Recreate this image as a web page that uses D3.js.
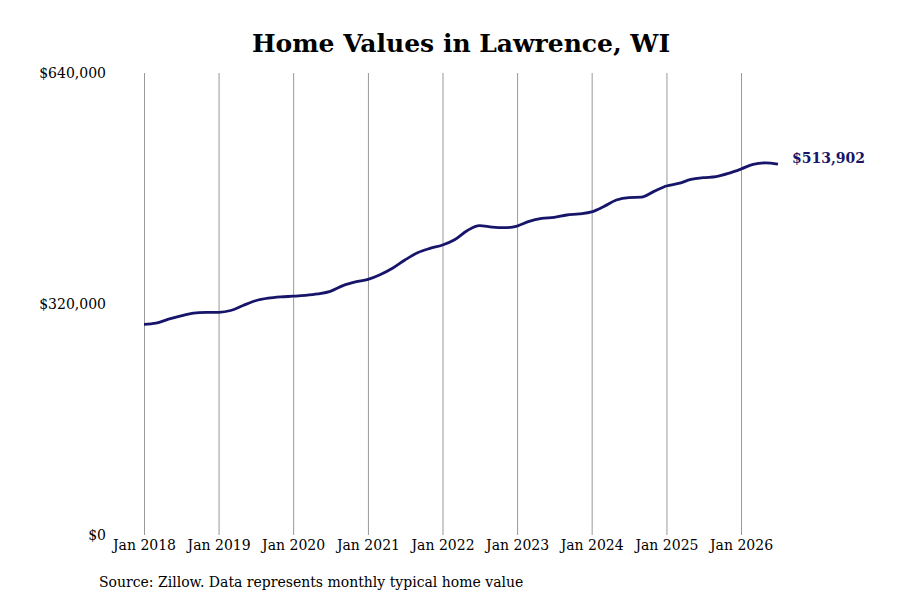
<!DOCTYPE html>
<html>
<head>
<meta charset="utf-8">
<script src="https://cdn.jsdelivr.net/npm/d3@7"></script>
<style>
  body { margin: 0; background: #fff; }
  text { font-family: "DejaVu Serif", serif; }
</style>
</head>
<body>
<svg id="chart" width="900" height="600"></svg>
<script>
// monthly typical home value (every other month)
const dates = [
  "2018-01", "2018-03", "2018-05", "2018-07", "2018-09", "2018-11",
  "2019-01", "2019-03", "2019-05", "2019-07", "2019-09", "2019-11",
  "2020-01", "2020-03", "2020-05", "2020-07", "2020-09", "2020-11",
  "2021-01", "2021-03", "2021-05", "2021-07", "2021-09", "2021-11",
  "2022-01", "2022-03", "2022-05", "2022-07", "2022-09", "2022-11",
  "2023-01", "2023-03", "2023-05", "2023-07", "2023-09", "2023-11",
  "2024-01", "2024-03", "2024-05", "2024-07", "2024-09", "2024-11",
  "2025-01", "2025-03", "2025-05", "2025-07", "2025-09", "2025-11",
  "2026-01", "2026-03", "2026-05", "2026-07"
];
const values = [
  291900, 293500, 299000, 303500, 307300, 308300,
  308500, 311000, 318000, 324500, 328000, 329800,
  330800, 332000, 334000, 337500, 345500, 350500,
  354000, 360500, 369500, 381000, 391000, 397000,
  401700, 409000, 421500, 428500, 426500, 425700,
  428000, 434500, 438500, 440000, 443300, 444800,
  447500, 455000, 464000, 467500, 468000, 476000,
  483500, 487000, 492500, 495000, 496500, 501000,
  507000, 513500, 515500, 513902
];
const yTicks = [0, 320000, 640000];
const xTickYears = [2018, 2019, 2020, 2021, 2022, 2023, 2024, 2025, 2026];

const title = "Home Values in Lawrence, WI";
const source = "Source: Zillow. Data represents monthly typical home value";

const parse = d3.timeParse("%Y-%m");
const data = dates.map((d, i) => ({ date: parse(d), value: values[i] }));

const svg = d3.select("#chart");
const lineColor = "#16156a";

const x = d3.scaleTime()
  .domain(d3.extent(data, d => d.date))
  .range([144, 778]);
const y = d3.scaleLinear()
  .domain([0, 640000])
  .range([535, 73]);

svg.append("text")
  .attr("x", 461)
  .attr("y", 52)
  .attr("text-anchor", "middle")
  .style("font-size", "25px")
  .style("font-weight", "bold")
  .text(title);

// vertical gridlines + x labels
const xAxis = d3.axisBottom(x)
  .tickValues(xTickYears.map(yr => new Date(yr, 0, 1)))
  .tickSize(-(y(0) - y(640000)))
  .tickFormat(d3.timeFormat("Jan %Y"));

const gx = svg.append("g")
  .attr("transform", `translate(0,${y(0)})`)
  .call(xAxis);
gx.select(".domain").remove();
gx.selectAll(".tick line").attr("stroke", "#999").attr("stroke-width", 1);
gx.selectAll(".tick text")
  .attr("y", 5)
  .attr("fill", "#000")
  .style("font-size", "14px")
  .style("font-family", "DejaVu Serif, serif");

// y labels
const yAxis = d3.axisLeft(y)
  .tickValues(yTicks)
  .tickSize(0)
  .tickFormat(d => "$" + d3.format(",")(d));
const gy = svg.append("g")
  .attr("transform", "translate(106,0)")
  .call(yAxis);
gy.select(".domain").remove();
gy.selectAll(".tick text")
  .attr("x", 0)
  .attr("fill", "#000")
  .style("font-size", "14px")
  .style("font-family", "DejaVu Serif, serif");

const line = d3.line()
  .x(d => x(d.date))
  .y(d => y(d.value))
  .curve(d3.curveMonotoneX);

svg.append("path")
  .datum(data)
  .attr("fill", "none")
  .attr("stroke", lineColor)
  .attr("stroke-width", 2.8)
  .attr("d", line);

const last = data[data.length - 1];
svg.append("text")
  .attr("x", x(last.date) + 14)
  .attr("y", y(last.value) - 6)
  .attr("dy", "0.35em")
  .attr("fill", lineColor)
  .style("font-size", "14px")
  .style("font-weight", "bold")
  .text("$" + d3.format(",")(last.value));

svg.append("text")
  .attr("x", 99)
  .attr("y", 587)
  .style("font-size", "14px")
  .text(source);
</script>
</body>
</html>
